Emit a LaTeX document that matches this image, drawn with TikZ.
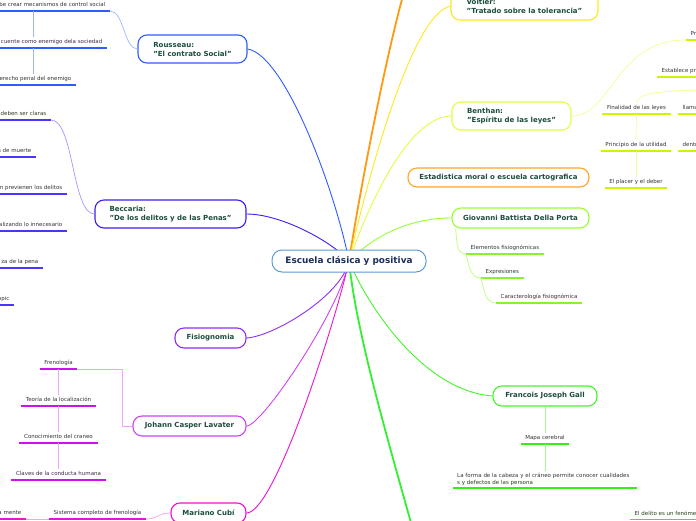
\documentclass[tikz,border=0pt]{standalone}
\usepackage{fontspec}
\setmainfont{DejaVu Sans}
\usetikzlibrary{backgrounds}
\definecolor{cCen}{HTML}{5B9BD5}
\definecolor{tCen}{HTML}{1B2F5E}
\definecolor{tMain}{HTML}{1B4D3E}
\definecolor{tSub}{HTML}{333333}
\definecolor{cRou}{HTML}{2F5CFF}
\definecolor{cRouL}{HTML}{9DB5FF}
\definecolor{cBec}{HTML}{3A1EF2}
\definecolor{cBecU}{HTML}{4A35FF}
\definecolor{cBecL}{HTML}{A396FF}
\definecolor{cFis}{HTML}{8E2EF0}
\definecolor{cLav}{HTML}{CC44F0}
\definecolor{cLavU}{HTML}{CC11EE}
\definecolor{cLavL}{HTML}{F0A0FF}
\definecolor{cCub}{HTML}{F010D0}
\definecolor{cCubL}{HTML}{F8A0E8}
\definecolor{cVol}{HTML}{FFE81A}
\definecolor{cOra}{HTML}{FF9A10}
\definecolor{cBen}{HTML}{E0FF40}
\definecolor{cBenU}{HTML}{CCF500}
\definecolor{cBenL}{HTML}{EEFF99}
\definecolor{cEst}{HTML}{FFA528}
\definecolor{cDel}{HTML}{99FF33}
\definecolor{cDelU}{HTML}{88F522}
\definecolor{cDelL}{HTML}{BBFF77}
\definecolor{cGal}{HTML}{44F52A}
\definecolor{cGalU}{HTML}{33F010}
\definecolor{cGalL}{HTML}{99FF99}
\definecolor{cGrn}{HTML}{33F033}
\tikzset{
  mainbox/.style={draw=#1, line width=1.1pt, rounded corners=9pt, fill=white, text=tMain,
    font=\bfseries\fontsize{7}{9}\selectfont, align=left, inner sep=0pt},
  cenbox/.style={draw=cCen, line width=1pt, rounded corners=10pt, fill=white, text=tCen,
    font=\bfseries\fontsize{8.9}{10}\selectfont, inner sep=0pt},
  sub/.style={font=\fontsize{5.5}{6.3}\selectfont, text=tSub, inner xsep=4.5pt, inner ysep=2.5pt,
    text height=4pt, text depth=1.5pt,
    append after command={(\tikzlastnode.south west) edge[draw=#1, line width=1.3pt] (\tikzlastnode.south east)}},
  link/.style={draw=#1, line width=0.9pt},
  twig/.style={draw=#1, line width=0.7pt},
}
\begin{document}
\begin{tikzpicture}[x=1pt,y=-1pt]
\useasboundingbox (0,0) rectangle (696,520);
\coordinate (oraTop) at (404,-8);
\coordinate (grnBot) at (413,530);
\coordinate (rvx) at (33,0);
\coordinate (lavk) at (122,0);
\coordinate (out1) at (700,90);

% central and main nodes
\node[cenbox, minimum width=154pt, minimum height=22pt] (cen) at (349,261) {Escuela clásica y positiva};
\node[mainbox=cRou, minimum width=109pt, minimum height=28pt] (rou) at (192.5,49) {Rousseau:\\"El contrato Social"};
\node[mainbox=cBec, minimum width=151pt, minimum height=28pt] (bec) at (170.5,214) {Beccaria:\\"De los delitos y de las Penas"};
\node[mainbox=cFis, minimum width=71pt, minimum height=20pt] (fis) at (210.5,338) {Fisiognomia};
\node[mainbox=cLav, minimum width=113pt, minimum height=20pt] (lav) at (189.5,426) {Johann Casper Lavater};
\node[mainbox=cCub, minimum width=75pt, minimum height=20pt] (cub) at (208.5,513) {Mariano Cubí};
\node[mainbox=cVol, minimum width=147pt, minimum height=28pt] (vol) at (524.5,6) {Voltier:\\"Tratado sobre la tolerancia"};
\node[mainbox=cBen, minimum width=119pt, minimum height=28pt] (ben) at (511.5,116) {Benthan:\\"Espíritu de las leyes"};
\node[mainbox=cEst, minimum width=181pt, minimum height=19pt] (est) at (498.5,177.5) {Estadistica moral o escuela cartografica};
\node[mainbox=cDel, minimum width=137pt, minimum height=20pt] (del) at (520.5,218) {Giovanni Battista Della Porta};
\node[mainbox=cGal, minimum width=104pt, minimum height=20pt] (gal) at (545,396) {Francois Joseph Gall};

% Rousseau children
\node[sub=cRou, anchor=south east] (r1) at (110,11) {be crear mecanismos de control social};
\node[sub=cRou, anchor=south east] (r2) at (107,48) {cuente como enemigo dela sociedad};
\node[sub=cRou, anchor=south east] (r3) at (76,85) {erecho penal del enemigo};
\draw[twig=cRouL] (rou.west) .. controls (124,49) and (124,11) .. (r1.south east);
\draw[twig=cRouL] (r1.south -| rvx) -- (r2.north -| rvx);
\draw[twig=cRouL] (r2.south -| rvx) -- (r3.north -| rvx);

% Beccaria children
\node[sub=cBecU, anchor=south east] (b1) at (51,120) {deben ser claras};
\node[sub=cBecU, anchor=south east] (b2) at (36,157) {a de muerte};
\node[sub=cBecU, anchor=south east] (b3) at (67,194) {n previenen los delitos};
\node[sub=cBecU, anchor=south east] (b4) at (67,231) {alizando lo innecesario};
\node[sub=cBecU, anchor=south east] (b5) at (43,268) {za de la pena};
\node[sub=cBecU, anchor=south east] (b6) at (14,305) {opic};
\draw[twig=cBecL] (bec.west) .. controls (72,214) and (74,120) .. (b1.south east);

% Lavater children
\node[sub=cLavU, anchor=south] (l1) at (58.5,369) {Frenología};
\node[sub=cLavU, anchor=south] (l2) at (58.5,406) {Teoría de la localización};
\node[sub=cLavU, anchor=south] (l3) at (58.5,443) {Conocimiento del craneo};
\node[sub=cLavU, anchor=south] (l4) at (58.5,480) {Claves de la conducta humana};
\draw[twig=cLavL] (lav.west) -- (lav.west -| lavk) -- (l1.south east -| lavk) -- (l1.south east);
\draw[twig=cLavL] (l1.south) -- (l2.north);
\draw[twig=cLavL] (l2.south) -- (l3.north);
\draw[twig=cLavL] (l3.south) -- (l4.north);

% Cubi children
\node[sub=cCub, anchor=south] (c1) at (97.5,519) {Sistema completo de frenología};
\node[sub=cCub, anchor=south east] (c2) at (26,519) {a mente};
\draw[twig=cCubL] (cub.west) .. controls (158,513) and (158,519) .. (c1.south east);
\draw[twig=cCubL] (c2.south east) -- (c1.south west);

% Benthan children
\node[sub=cBenU, anchor=south] (n1) at (636.5,114) {Finalidad de las leyes};
\node[sub=cBenU, anchor=south] (n2) at (636,151) {Principio de la utilidad};
\node[sub=cBenU, anchor=south] (n3) at (636,188) {El placer y el deber};
\node[sub=cBenU, anchor=south west] (n4) at (678,114) {llama};
\node[sub=cBenU, anchor=south west] (n5) at (678,151) {dentr};
\node[sub=cBenU, anchor=south west] (n6) at (686,40) {Pr};
\node[sub=cBenU, anchor=south west] (n7) at (657,77) {Establece pri};
\draw[twig=cBenL] (ben.east) .. controls (612,116) and (615,40) .. (n6.south west);
\draw[twig=cBenL] (n1.north) .. controls (637,93) and (660,91) .. (out1);
\draw[twig=cBenL] (n1.south) -- (n2.north);
\draw[twig=cBenL] (n2.south) -- (n3.north);

% Della Porta children
\node[sub=cDelU, anchor=south west] (d1) at (466,254) {Elementos fisiognómicas};
\node[sub=cDelU, anchor=south west] (d2) at (481,278) {Expresiones};
\node[sub=cDelU, anchor=south west] (d3) at (496,303) {Caracterología fisiognómica};
\draw[twig=cDelL] ([xshift=4pt]del.south west) to[out=-80,in=180] (d1.south west);
\draw[twig=cDelL] (d1.south west) to[out=-75,in=180] (d2.south west);
\draw[twig=cDelL] (d2.south west) to[out=-75,in=180] (d3.south west);

% Gall children
\node[sub=cGalU, anchor=south] (g1) at (545,444) {Mapa cerebral};
\node[sub=cGalU, anchor=south west, align=left, text width=176pt, text height={}, text depth={}, inner xsep=4pt] (g2) at (453,488)
  {La forma de la cabeza y el cráneo permite conocer cualidades\\s y defectos de las persona};
\node[sub=cGalU, anchor=south west] (g3) at (630,519.5) {El delito es un fenóme};
\draw[twig=cGalL] (gal.south) -- (g1.north);
\draw[twig=cGalL] (g1.south) -- (g2.north -| g1.south);

% connectors from the centre
\begin{scope}[on background layer]
\draw[link=cRou] (cen.center) .. controls (335,190) and (285,55) .. (rou.east);
\draw[link=cBec] (cen.center) .. controls (330,240) and (280,214) .. (bec.east);
\draw[link=cFis] (cen.center) .. controls (342,295) and (275,336) .. (fis.east);
\draw[link=cLav] (cen.center) .. controls (340,310) and (262,426) .. (lav.east);
\draw[link=cCub] (cen.center) .. controls (336,320) and (275,513) .. (cub.east);
\draw[link=cOra, line width=1.8pt] (cen.center) .. controls (360,190) and (385,60) .. (oraTop);
\draw[link=cVol] (cen.center) .. controls (365,190) and (410,15) .. (vol.west);
\draw[link=cBen] (cen.center) .. controls (370,200) and (410,116) .. (ben.west);
\draw[link=cDel] (cen.center) .. controls (375,235) and (410,218) .. (del.west);
\draw[link=cGrn, line width=1.8pt] (cen.center) .. controls (356,330) and (385,430) .. (grnBot);
\draw[link=cGal] (cen.center) .. controls (365,300) and (420,390) .. (gal.west);
\end{scope}
\end{tikzpicture}
\end{document}
